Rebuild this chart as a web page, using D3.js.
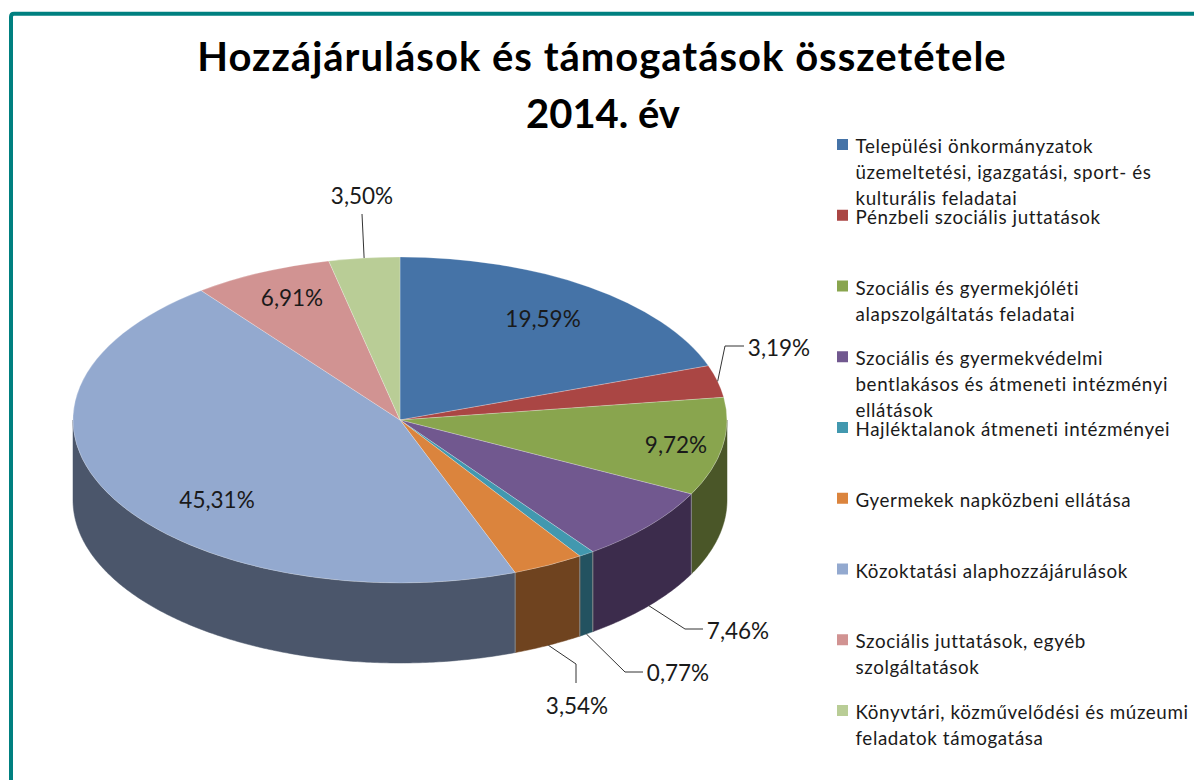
<!DOCTYPE html>
<html>
<head>
<meta charset="utf-8">
<script src="https://cdn.jsdelivr.net/npm/d3@7"></script>
<style>
html, body { margin: 0; padding: 0; background: #fff; }
svg { display: block; }
text { font-family: Lato, "Open Sans", sans-serif; fill: #1a1a1a; }
</style>
</head>
<body>
<div id="chart"></div>
<script>
// chart data
var titleLines = ["Hozzájárulások és támogatások összetétele", "2014. év"];
var shares = [19.59, 3.19, 9.72, 7.46, 0.77, 3.54, 45.31, 6.91, 3.50];
var legendLabels = [
    ["Települési önkormányzatok", "üzemeltetési, igazgatási, sport- és", "kulturális feladatai"],
    ["Pénzbeli szociális juttatások"],
    ["Szociális és gyermekjóléti", "alapszolgáltatás feladatai"],
    ["Szociális és gyermekvédelmi", "bentlakásos és átmeneti intézményi", "ellátások"],
    ["Hajléktalanok átmeneti intézményei"],
    ["Gyermekek napközbeni ellátása"],
    ["Közoktatási alaphozzájárulások"],
    ["Szociális juttatások, egyéb", "szolgáltatások"],
    ["Könyvtári, közművelődési és múzeumi", "feladatok támogatása"]
];
var topColors = ["#4573a7", "#aa4644", "#89a54e", "#71588f", "#4298af", "#db843d", "#93a9cf", "#d19392", "#b9cd96"];
var sideColors = ["#2a4565", "#662a29", "#4a5628", "#3c2c4c", "#235260", "#6f431f", "#4b566b", "#7d5857", "#6f7b5a"];

// svg params
var svgWidth = 1194;
var svgHeight = 780;
var cx = 400, cy = 420, rx = 327, ry = 163, depth = 80;

var svg = d3.select("#chart").append("svg")
    .attr("width", svgWidth)
    .attr("height", svgHeight);

// frame, open to the right and bottom of the picture
svg.append("path")
    .attr("d", `M11,${svgHeight} V17 Q11,13.7 14,13.7 H${svgWidth}`)
    .attr("fill", "none")
    .attr("stroke", "#008080")
    .attr("stroke-width", 4);

// title
svg.selectAll(".title").data(titleLines).enter().append("text")
    .attr("class", "title")
    .attr("x", (d, i) => i == 0 ? 602 : 603)
    .attr("y", (d, i) => 71 + i * 57)
    .attr("text-anchor", "middle")
    .attr("font-size", 40)
    .attr("font-weight", "bold")
    .attr("letter-spacing", (d, i) => i == 0 ? 1 : 0)
    .style("fill", "#000")
    .text(d => d);

var arcs = d3.pie().sort(null).value(d => d)(shares);

function px(a) { return cx + rx * Math.sin(a); }
function py(a) { return cy - ry * Math.cos(a); }

// wall of the pie, only the front half (90 to 270 degrees) can be seen
var line = d3.line();
var front = arcs.map((d, i) => ({
    i: i,
    a0: Math.max(d.startAngle, Math.PI / 2),
    a1: Math.min(d.endAngle, Math.PI * 1.5)
})).filter(d => d.a1 > d.a0);

var wall = svg.append("g");
front.forEach(function(d) {
    var angles = d3.range(d.a0, d.a1, 0.01).concat([d.a1]);
    var edge = angles.map(a => [px(a), py(a)]);
    var lower = angles.slice().reverse().map(a => [px(a), py(a) + depth]);
    wall.append("path")
        .attr("d", line(edge.concat(lower)) + "Z")
        .attr("fill", sideColors[d.i])
        .attr("stroke", sideColors[d.i])
        .attr("stroke-width", 0.5);
});
// light seams between the wall pieces
front.slice(1).forEach(function(d) {
    wall.append("line")
        .attr("x1", px(d.a0)).attr("y1", py(d.a0))
        .attr("x2", px(d.a0)).attr("y2", py(d.a0) + depth)
        .attr("stroke", "#8a8a8a")
        .attr("stroke-width", 1);
});

// top of the pie: unit d3.arc squashed into the ellipse
var arc = d3.arc().innerRadius(0).outerRadius(1);
svg.append("g")
    .attr("transform", `translate(${cx},${cy}) scale(${rx},${ry})`)
    .selectAll("path")
    .data(arcs)
    .enter()
    .append("path")
    .attr("d", arc)
    .attr("fill", (d, i) => topColors[i])
    .attr("stroke", "#fff")
    .attr("stroke-opacity", 0.35)
    .attr("stroke-width", 0.7)
    .attr("vector-effect", "non-scaling-stroke");

// data labels, label position is layout only
var labelLayout = [
    { x: 543, y: 319 },
    { x: 779, y: 348, leader: [[-54, -2], [-35, -2]], wall: false },
    { x: 676, y: 445 },
    { x: 738, y: 631, leader: [[-53, -2], [-35, -2]], wall: true },
    { x: 678, y: 673, leader: [[-53, -1], [-35, -1]], wall: true },
    { x: 577, y: 706, leader: [[-1, -42], [-1, -23]], wall: true },
    { x: 217, y: 500 },
    { x: 292, y: 298 },
    { x: 362, y: 196, leader: [[0, 18]], wall: false }
];

function percent(v) { return v.toFixed(2).replace(".", ",") + "%"; }

arcs.forEach(function(d, i) {
    var l = labelLayout[i];
    if (l.leader) {
        var mid = (d.startAngle + d.endAngle) / 2;
        var pts = [[px(mid), py(mid) + (l.wall ? depth : 0)]];
        l.leader.forEach(p => pts.push([l.x + p[0], l.y + p[1]]));
        svg.append("path")
            .attr("d", line(pts))
            .attr("fill", "none")
            .attr("stroke", "#333")
            .attr("stroke-width", 1);
    }
    svg.append("text")
        .attr("x", l.x)
        .attr("y", l.y)
        .attr("dy", "0.35em")
        .attr("text-anchor", "middle")
        .attr("font-size", 22.5)
        .text(percent(d.value));
});

// legend
var legendY = d3.scalePoint()
    .domain(d3.range(legendLabels.length))
    .range([145, 711]);

var legend = svg.append("g").selectAll("g")
    .data(legendLabels)
    .enter()
    .append("g")
    .attr("transform", (d, i) => `translate(837, ${legendY(i)})`);

legend.append("rect")
    .attr("y", -6)
    .attr("width", 11)
    .attr("height", 11)
    .attr("fill", (d, i) => topColors[i]);

legend.each(function(lines) {
    d3.select(this).selectAll("text").data(lines).enter().append("text")
        .attr("x", 18.5)
        .attr("y", (d, i) => 8 + i * 26)
        .attr("font-size", 18.8)
        .attr("letter-spacing", 0.6)
        .text(d => d);
});
</script>
</body>
</html>
